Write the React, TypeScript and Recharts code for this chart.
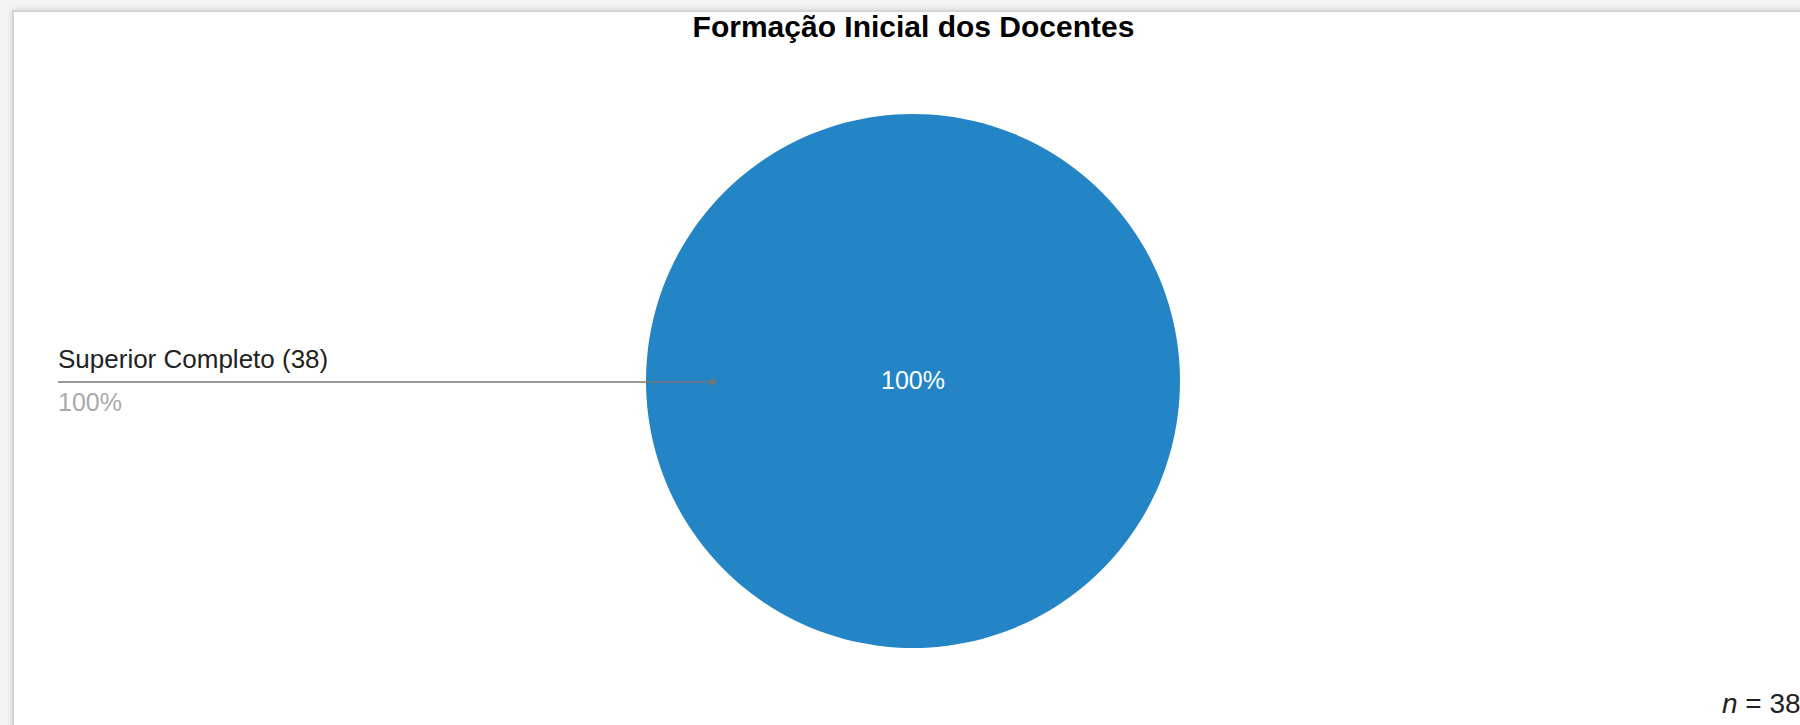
import { PieChart, Pie, Cell } from "recharts";

const categories = ["Superior Completo"];
const counts = [38];
const colors = ["#2385c6"];
const chartTitle = "Formação Inicial dos Docentes";

const FONT = "'Liberation Sans', Arial, sans-serif";

const data = categories.map((name, i) => ({ name, value: counts[i] }));
const total = counts.reduce((s, v) => s + v, 0);

const RAD = Math.PI / 180;

function renderLabel(props: any) {
  const { cx, cy, midAngle, outerRadius, percent, name, value } = props;
  const pct = `${Math.round(percent * 100)}%`;
  const cos = Math.cos(-midAngle * RAD);
  const sin = Math.sin(-midAngle * RAD);
  // anchor point inside the slice, line runs out to the left margin
  const dx = cx + outerRadius * 0.75 * cos;
  const dy = cy + outerRadius * 0.75 * sin + 1;
  const endX = 58;
  return (
    <g>
      <text
        x={cx}
        y={cy + 8}
        textAnchor="middle"
        fill="#ffffff"
        fontSize={25}
        fontFamily={FONT}
      >
        {pct}
      </text>
      <line
        x1={endX}
        y1={dy}
        x2={dx}
        y2={dy}
        stroke="#777777"
        strokeWidth={1.5}
      />
      <circle cx={dx} cy={dy} r={3} fill="#777777" />
      <text
        x={endX}
        y={dy - 14}
        fill="#222222"
        fontSize={26}
        fontFamily={FONT}
      >
        {`${name} (${value})`}
      </text>
      <text
        x={endX}
        y={dy + 29}
        fill="#aaaaaa"
        fontSize={25}
        fontFamily={FONT}
      >
        {pct}
      </text>
    </g>
  );
}

export default function App() {
  return (
    <div
      style={{
        position: "absolute",
        left: 0,
        top: 0,
        width: 1800,
        height: 725,
        overflow: "hidden",
        background: "#f4f4f4",
      }}
    >
      <div
        style={{
          position: "absolute",
          left: 12,
          top: 10,
          width: 1820,
          height: 740,
          background: "#ffffff",
          border: "2px solid #d4d4d4",
          boxShadow: "0 0 6px rgba(0,0,0,0.15)",
        }}
      />
      <div style={{ position: "absolute", left: 0, top: 0 }}>
        <PieChart width={1800} height={725}>
          <Pie
            data={data}
            dataKey="value"
            nameKey="name"
            cx={908}
            cy={376}
            outerRadius={267}
            startAngle={0}
            endAngle={360}
            stroke="none"
            label={renderLabel}
            labelLine={false}
            isAnimationActive={false}
          >
            {data.map((d, i) => (
              <Cell key={d.name} fill={colors[i]} />
            ))}
          </Pie>
        </PieChart>
      </div>
      <svg
        width={1800}
        height={725}
        style={{ position: "absolute", left: 0, top: 0, pointerEvents: "none" }}
      >
        <text
          x={913.5}
          y={37}
          textAnchor="middle"
          fontSize={30}
          fontWeight="bold"
          fontFamily={FONT}
          fill="#000000"
        >
          {chartTitle}
        </text>
        <text x={1722} y={713} fontSize={28} fontFamily={FONT} fill="#222222">
          <tspan fontStyle="italic">n</tspan>
          {` = ${total}`}
        </text>
      </svg>
    </div>
  );
}
